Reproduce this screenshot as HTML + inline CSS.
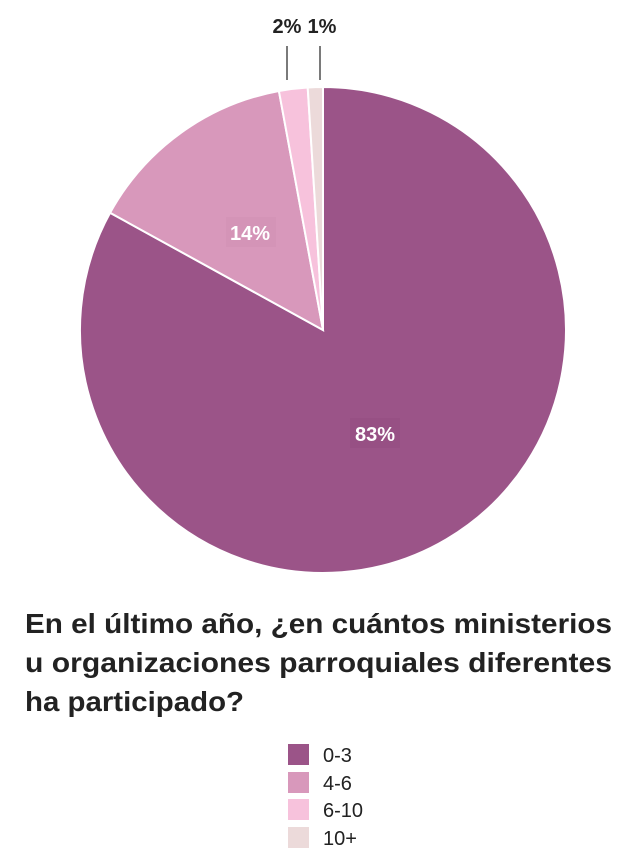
<!DOCTYPE html>
<html><head><style>body{margin:0;background:#fff}svg{display:block}</style></head>
<body>
<svg width="626" height="862" viewBox="0 0 626 862" font-family="Liberation Sans, sans-serif">
<g stroke="#fff" stroke-width="2">
<path d="M323,330 L323,87 A243,243 0 1,1 110.1,212.8 Z" fill="#9b5488"/>
<path d="M323,330 L110.1,212.8 A243,243 0 0,1 278.9,91.0 Z" fill="#d898bb"/>
<path d="M323,330 L278.9,91.0 A243,243 0 0,1 307.7,87.5 Z" fill="#f7c2dc"/>
<path d="M323,330 L307.7,87.5 A243,243 0 0,1 323,87 Z" fill="#ecdada"/>
</g>
<rect x="226" y="217" width="50" height="30" fill="#cf8db2" opacity="0.35"/>
<rect x="350" y="418" width="50" height="30" fill="#8f4a7d" opacity="0.35"/>
<text x="250" y="240" text-anchor="middle" font-size="20" font-weight="bold" fill="#fff">14%</text>
<text x="375" y="441" text-anchor="middle" font-size="20" font-weight="bold" fill="#fff">83%</text>
<text x="287" y="33" text-anchor="middle" font-size="20" font-weight="bold" fill="#222">2%</text>
<text x="322" y="33" text-anchor="middle" font-size="20" font-weight="bold" fill="#222">1%</text>
<line x1="287" y1="46" x2="287" y2="80" stroke="#222" stroke-width="1.2"/>
<line x1="320" y1="46" x2="320" y2="80" stroke="#222" stroke-width="1.2"/>
<g font-size="28" font-weight="bold" fill="#222">
<text x="25" y="633" textLength="587" lengthAdjust="spacingAndGlyphs">En el último año, ¿en cuántos ministerios</text>
<text x="25" y="672" textLength="587" lengthAdjust="spacingAndGlyphs">u organizaciones parroquiales diferentes</text>
<text x="25" y="711" textLength="219" lengthAdjust="spacingAndGlyphs">ha participado?</text>
</g>
<rect x="288" y="744" width="21" height="21" fill="#9b5488"/>
<rect x="288" y="772" width="21" height="21" fill="#d898bb"/>
<rect x="288" y="799" width="21" height="21" fill="#f7c2dc"/>
<rect x="288" y="827" width="21" height="21" fill="#ecdada"/>
<g font-size="20" fill="#222">
<text x="323" y="762">0-3</text>
<text x="323" y="790">4-6</text>
<text x="323" y="817">6-10</text>
<text x="323" y="845">10+</text>
</g>
</svg>
</body></html>
